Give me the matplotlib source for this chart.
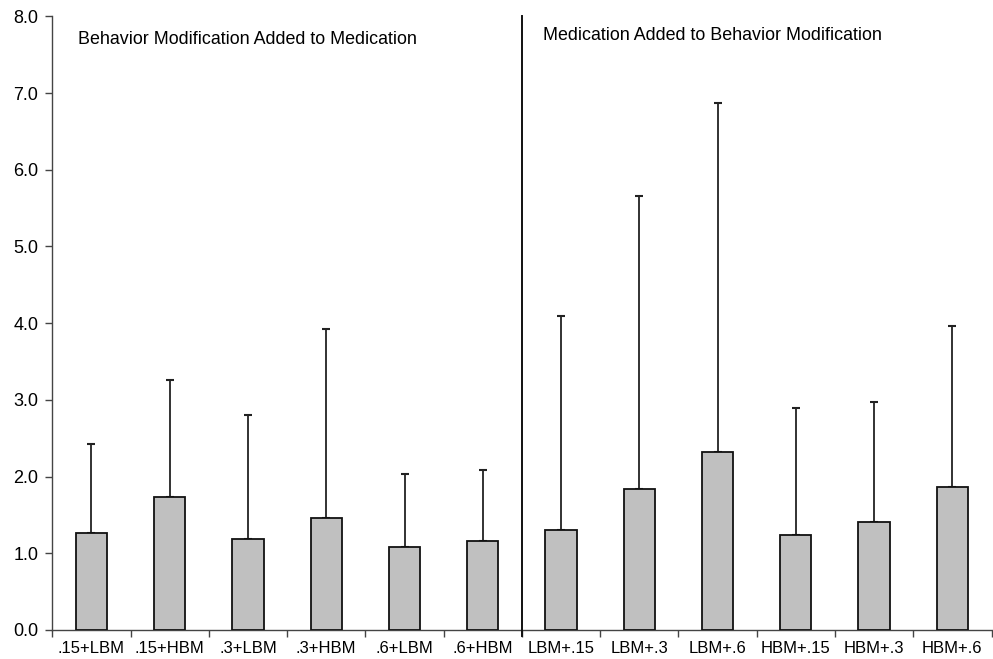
import matplotlib
matplotlib.use("Agg")
import matplotlib.pyplot as plt
import numpy as np

categories = [".15+LBM", ".15+HBM", ".3+LBM", ".3+HBM", ".6+LBM", ".6+HBM",
              "LBM+.15", "LBM+.3", "LBM+.6", "HBM+.15", "HBM+.3", "HBM+.6"]
means = [1.27, 1.73, 1.18, 1.46, 1.08, 1.16, 1.30, 1.84, 2.32, 1.24, 1.41, 1.87]
upper = [2.43, 3.26, 2.80, 3.93, 2.03, 2.09, 4.09, 5.66, 6.87, 2.89, 2.97, 3.96]
yticks = [0, 1, 2, 3, 4, 5, 6, 7, 8]
left_label = "Behavior Modification Added to Medication"
right_label = "Medication Added to Behavior Modification"

plt.rcParams['font.family'] = ['Liberation Sans', 'DejaVu Sans']

fig = plt.figure(figsize=(9.93, 6.59), dpi=100)
ax = fig.add_axes([52.3/993, 29/659, (991.5-52.3)/993, (630-16.3)/659])

x = np.arange(len(categories))
err = np.array(upper) - np.array(means)
ax.bar(x, means, width=0.4, color="#c0c0c0", edgecolor="#111111", linewidth=1.3, zorder=3)
ax.errorbar(x, means, yerr=[np.zeros(len(x)), err], fmt="none", ecolor="#222222",
            elinewidth=1.3, capsize=2.6, capthick=1.5, zorder=2)

ax.set_xlim(-0.5, len(categories) - 0.5)
ax.set_ylim(0, 8)
ax.set_yticks(yticks)
ax.set_yticklabels([f"{v:.1f}" for v in yticks], fontsize=13)
ax.set_xticks(x)
ax.set_xticklabels(categories, fontsize=12)
ax.set_xticks(np.arange(-0.5, len(categories), 1.0), minor=True)
ax.tick_params(axis="x", which="major", length=0, pad=8)
ax.tick_params(axis="x", which="minor", length=5, width=1, color="#444444", direction="out")
ax.tick_params(axis="y", length=5, width=1, color="#444444", pad=5)

for s in ["top", "right"]:
    ax.spines[s].set_visible(False)
ax.spines["left"].set_color("#444444")
ax.spines["bottom"].set_color("#444444")
ax.spines["left"].set_linewidth(1)
ax.spines["bottom"].set_linewidth(1)

ax.plot([5.5, 5.5], [-0.08, 8.0], color="#111111", linewidth=1.4, clip_on=False, zorder=4)

ax.text(-0.176, 7.70, left_label, fontsize=12.9, va="center", ha="left")
ax.text(5.77, 7.75, right_label, fontsize=12.9, va="center", ha="left")

fig.savefig("out.png", dpi=100)
